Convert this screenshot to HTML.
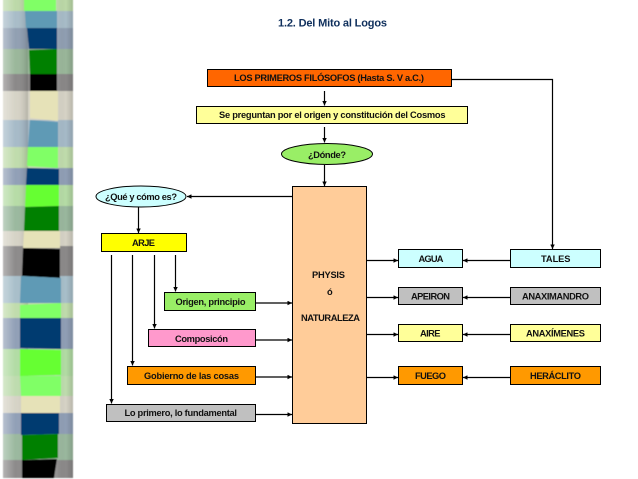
<!DOCTYPE html>
<html><head><meta charset="utf-8"><style>
html,body{margin:0;padding:0;background:#fff;width:638px;height:479px;overflow:hidden}
svg{display:block}
text{font-family:"Liberation Sans",sans-serif;font-weight:bold;font-size:9.3px;fill:#111}
</style></head><body>
<svg width="638" height="479" viewBox="0 0 638 479" xmlns="http://www.w3.org/2000/svg">
<defs>
<linearGradient id="l" x1="0" x2="1" y1="0" y2="0"><stop offset="0" stop-color="#fff" stop-opacity=".35"/><stop offset=".5" stop-color="#fff" stop-opacity="0"/><stop offset="1" stop-color="#000" stop-opacity=".16"/></linearGradient>
<linearGradient id="r" x1="0" x2="1" y1="0" y2="0"><stop offset="0" stop-color="#fff" stop-opacity=".12"/><stop offset=".6" stop-color="#000" stop-opacity="0"/><stop offset="1" stop-color="#000" stop-opacity=".14"/></linearGradient>
<marker id="a" viewBox="0 0 5 5" refX="5" refY="2.5" markerWidth="4.500" markerHeight="4.500" markerUnits="userSpaceOnUse" orient="auto"><path d="M0 0L5 2.5L0 5z" fill="#000"/></marker>
<filter id="b" x="-5%" y="-1%" width="110%" height="102%"><feGaussianBlur stdDeviation="0.6"/></filter>
</defs>
<g filter="url(#b)">
<!-- strip sides -->
<g>
<rect x="3" y="-2" width="70" height="13" fill="#bcd9a8"/>
<rect x="3" y="11" width="70" height="17" fill="#a8bcc8"/>
<rect x="3" y="28" width="70" height="21" fill="#909fb2"/>
<rect x="3" y="49" width="70" height="25" fill="#9ab79a"/>
<rect x="3" y="74" width="70" height="17" fill="#8a8888"/>
<rect x="3" y="91" width="70" height="29" fill="#d6d3c6"/>
<rect x="3" y="120" width="70" height="27" fill="#a6bac8"/>
<rect x="3" y="147" width="70" height="21" fill="#c0dcac"/>
<rect x="3" y="168" width="70" height="17" fill="#909fb6"/>
<rect x="3" y="185" width="70" height="21" fill="#b6dca6"/>
<rect x="3" y="206" width="70" height="25" fill="#9ab89e"/>
<rect x="3" y="231" width="70" height="15" fill="#d6d3c6"/>
<rect x="3" y="246" width="70" height="30" fill="#8c8a8a"/>
<rect x="3" y="276" width="70" height="27" fill="#a8bfca"/>
<rect x="3" y="303" width="70" height="15" fill="#c0dcac"/>
<rect x="3" y="318" width="70" height="31" fill="#909fb6"/>
<rect x="3" y="349" width="70" height="27" fill="#b2dca4"/>
<rect x="3" y="376" width="70" height="20" fill="#bedcae"/>
<rect x="3" y="396" width="70" height="17" fill="#d6d3c6"/>
<rect x="3" y="413" width="70" height="21" fill="#909fb6"/>
<rect x="3" y="434" width="70" height="26" fill="#9ab89e"/>
<rect x="3" y="460" width="70" height="18" fill="#8c8a8a"/>
<rect x="3" y="-2" width="25" height="480" fill="url(#l)"/>
<rect x="55" y="-2" width="18" height="480" fill="url(#r)"/>
</g>
<!-- strip center -->
<g>
<rect x="24" y="-2" width="32" height="13" fill="#80ff66"/>
<path d="M25 11H57V28H26z" fill="#5f9ab5"/>
<path d="M27 28H57V49H29z" fill="#003a70"/>
<path d="M29 50L57 49V74H30z" fill="#008000"/>
<path d="M30 74H57V91H30z" fill="#000"/>
<path d="M30 91H58V121L30 118z" fill="#e6e2b8"/>
<path d="M30 120L58 122V147H28z" fill="#5f9ab5"/>
<path d="M28 147H58V168L27 166z" fill="#80ff66"/>
<path d="M27 168L59 169V185H26z" fill="#003a70"/>
<path d="M26 185H59V206L25 207z" fill="#66ff33"/>
<path d="M25 207L59 206V231L24 231z" fill="#008000"/>
<path d="M24 231H60V248H23z" fill="#e6e2b8"/>
<path d="M23 248L60 249V278L22 276z" fill="#000"/>
<path d="M21 276L61 278V303H20z" fill="#5f9ab5"/>
<path d="M20 305L61 303V318H20z" fill="#80ff66"/>
<path d="M20 318H61V349L20 348z" fill="#003a70"/>
<path d="M20 349L61 350V375L20 376z" fill="#66ff33"/>
<path d="M20 376H61V396L21 396z" fill="#80ff66"/>
<path d="M21 396H60V413H21z" fill="#e6e2b8"/>
<path d="M21 413H59V434L21 435z" fill="#003a70"/>
<path d="M22 435L58 434V458L22 460z" fill="#008000"/>
<path d="M22 460L57 459L54 478H22z" fill="#000"/>
</g>
</g>

<text x="278" y="26.500" style="font-size:11px;fill:#0f2f5c" textLength="109" lengthAdjust="spacing">1.2. Del Mito al Logos</text>

<g stroke="#000" stroke-width="1.200" fill="none">
<path d="M324.500 91V105.500" marker-end="url(#a)"/>
<path d="M324.500 127V142.500" marker-end="url(#a)"/>
<path d="M324.500 165V186" marker-end="url(#a)"/>
<path d="M292 196.500H187" marker-end="url(#a)"/>
<path d="M452 79.500H552.500V249" marker-end="url(#a)"/>
<path d="M138.500 207V233" marker-end="url(#a)"/>
<path d="M175.500 255V291.500" marker-end="url(#a)"/>
<path d="M154.500 255V328.500" marker-end="url(#a)"/>
<path d="M132.500 255V365.500" marker-end="url(#a)"/>
<path d="M111.500 255V403.500" marker-end="url(#a)"/>
<path d="M256 303H292" marker-end="url(#a)"/>
<path d="M256 340H292" marker-end="url(#a)"/>
<path d="M256 377H292" marker-end="url(#a)"/>
<path d="M256 414.500H292" marker-end="url(#a)"/>
<path d="M366 260.500H398" marker-end="url(#a)"/>
<path d="M366 297.500H398" marker-end="url(#a)"/>
<path d="M366 334.500H398" marker-end="url(#a)"/>
<path d="M366 377.500H398" marker-end="url(#a)"/>
<path d="M510 260.500H463" marker-end="url(#a)"/>
<path d="M510 297.500H463" marker-end="url(#a)"/>
<path d="M510 334.500H463" marker-end="url(#a)"/>
<path d="M510 377.500H463" marker-end="url(#a)"/>
</g>

<g stroke="#000" stroke-width="1">
<rect x="207.500" y="69.500" width="244" height="17" fill="#ff6600"/>
<rect x="196.500" y="106.500" width="271" height="17" fill="#ffff99"/>
<ellipse cx="327" cy="154" rx="45.500" ry="10.500" fill="#99ee66"/>
<rect x="292.500" y="186.500" width="74" height="237" fill="#ffcc99"/>
<ellipse cx="141" cy="196.500" rx="45" ry="10.500" fill="#ccffff"/>
<rect x="101.500" y="233.500" width="85" height="18" fill="#ffff00"/>
<rect x="164.500" y="292.500" width="91" height="18" fill="#99ee66"/>
<rect x="148.500" y="329.500" width="107" height="17" fill="#ff99cc"/>
<rect x="127.500" y="366.500" width="128" height="18" fill="#ff9900"/>
<rect x="106.500" y="404.500" width="149" height="17" fill="#c0c0c0"/>
<rect x="398.500" y="249.500" width="64" height="18" fill="#ccffff"/>
<rect x="398.500" y="287.500" width="64" height="17" fill="#c0c0c0"/>
<rect x="398.500" y="324.500" width="64" height="17" fill="#ffff99"/>
<rect x="398.500" y="366.500" width="64" height="18" fill="#ff9900"/>
<rect x="510.500" y="249.500" width="90" height="18" fill="#ccffff"/>
<rect x="510.500" y="287.500" width="90" height="17" fill="#c0c0c0"/>
<rect x="510.500" y="324.500" width="90" height="17" fill="#ffff99"/>
<rect x="510.500" y="366.500" width="90" height="18" fill="#ff9900"/>
</g>

<text x="234" y="81" textLength="190" lengthAdjust="spacing">LOS PRIMEROS FILÓSOFOS (Hasta S. V a.C.)</text>
<text x="219" y="118" textLength="226.500" lengthAdjust="spacing">Se preguntan por el origen y constitución del Cosmos</text>
<text x="308" y="158" textLength="38" lengthAdjust="spacing">¿Dónde?</text>
<text x="105" y="200" textLength="72" lengthAdjust="spacing">¿Qué y cómo es?</text>
<text x="132" y="246" textLength="23" lengthAdjust="spacing">ARJE</text>
<text x="175.500" y="305" textLength="70" lengthAdjust="spacing">Origen, principio</text>
<text x="175" y="342" textLength="53" lengthAdjust="spacing">Composicón</text>
<text x="144" y="379" textLength="95" lengthAdjust="spacing">Gobierno de las cosas</text>
<text x="124.500" y="416" textLength="112.500" lengthAdjust="spacing">Lo primero, lo fundamental</text>
<text x="312" y="278" textLength="33" lengthAdjust="spacing">PHYSIS</text>
<text x="327" y="295">ó</text>
<text x="301" y="321" textLength="59" lengthAdjust="spacing">NATURALEZA</text>
<text x="418.500" y="262" textLength="25" lengthAdjust="spacing">AGUA</text>
<text x="411" y="299.500" textLength="39" lengthAdjust="spacing">APEIRON</text>
<text x="420" y="336.500" textLength="20.500" lengthAdjust="spacing">AIRE</text>
<text x="415" y="379" textLength="31" lengthAdjust="spacing">FUEGO</text>
<text x="541" y="262" textLength="29.500" lengthAdjust="spacing">TALES</text>
<text x="522" y="299.500" textLength="67" lengthAdjust="spacing">ANAXIMANDRO</text>
<text x="526" y="336.500" textLength="59" lengthAdjust="spacing">ANAXÍMENES</text>
<text x="530" y="379" textLength="51" lengthAdjust="spacing">HERÁCLITO</text>
</svg>
</body></html>
